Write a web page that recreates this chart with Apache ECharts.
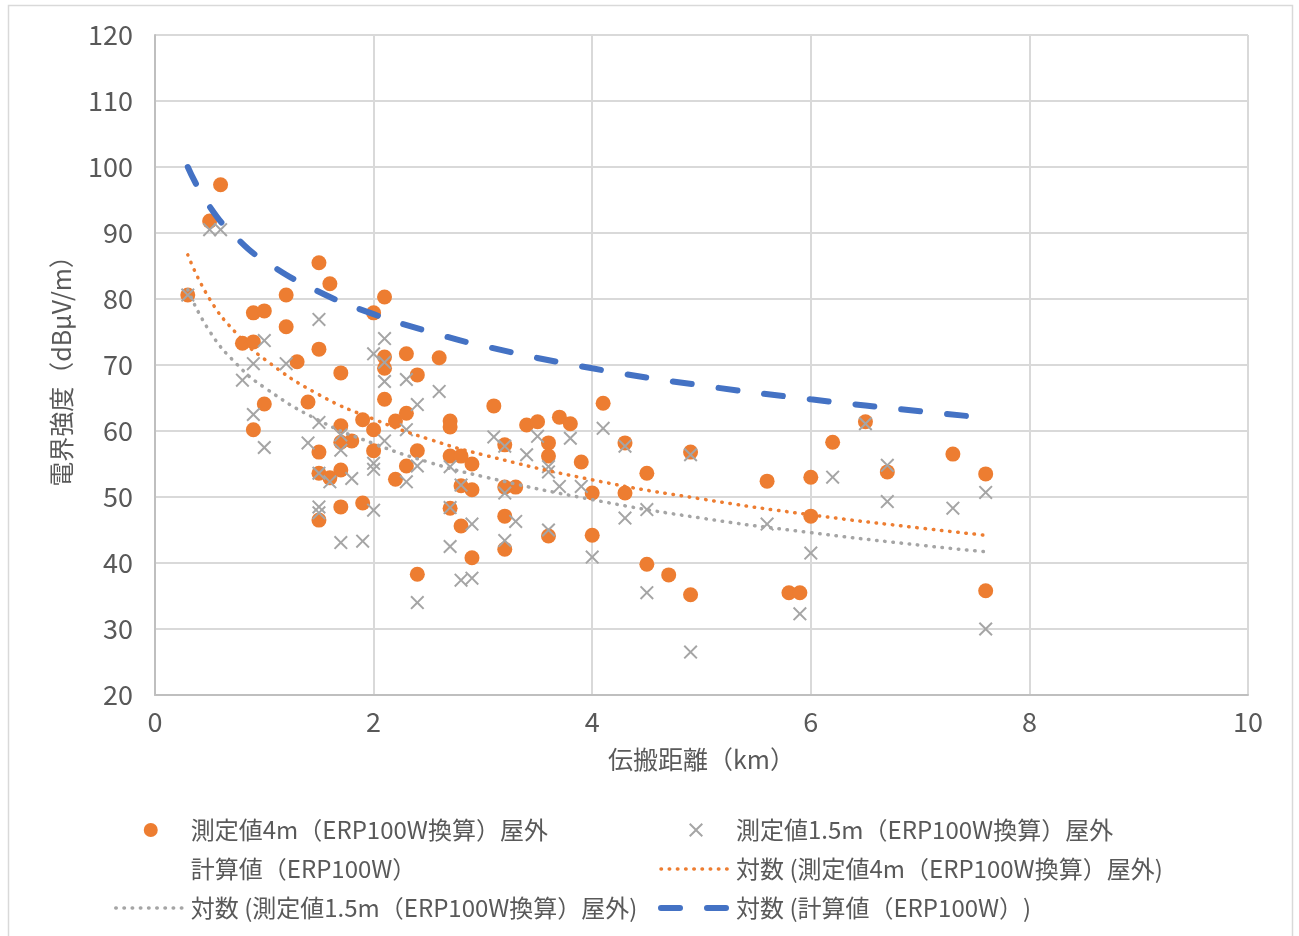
<!DOCTYPE html>
<html>
<head>
<meta charset="utf-8">
<title>電界強度</title>
<script src="https://cdn.jsdelivr.net/npm/echarts@6.0.0/dist/echarts.min.js"></script>
<style>
html, body { margin: 0; padding: 0; background: #ffffff; }
#chart { width: 1299px; height: 936px; }
</style>
</head>
<body>
<div id="chart"></div>
<script>
// 測定値4m
const dist4m = [0.3, 0.5, 0.6, 0.8, 0.9, 0.9, 1.0, 0.9, 1.0, 1.2, 1.2, 1.3, 1.4, 1.5, 1.5, 1.5, 1.5, 1.5,
  1.6, 1.6, 1.7, 1.7, 1.7, 1.7, 1.7, 1.8, 1.9, 1.9, 2.0, 2.0, 2.0, 2.1, 2.1, 2.1, 2.1, 2.2, 2.2,
  2.3, 2.3, 2.3, 2.4, 2.4, 2.4, 2.6, 2.7, 2.7, 2.7, 2.7, 2.8, 2.8, 2.8, 2.9, 2.9, 2.9, 3.1, 3.2,
  3.2, 3.2, 3.2, 3.3, 3.4, 3.5, 3.6, 3.6, 3.6, 3.7, 3.8, 3.9, 4.0, 4.0, 4.1, 4.3, 4.3, 4.5, 4.5,
  4.7, 4.9, 4.9, 5.6, 5.8, 5.9, 6.0, 6.0, 6.2, 6.5, 6.7, 7.3, 7.6, 7.6];
const val4m = [80.6, 91.8, 97.3, 73.3, 77.9, 73.5, 78.2, 60.2, 64.1, 80.6, 75.8, 70.5, 64.4, 85.5, 72.4, 56.8, 53.6, 46.5,
  82.3, 52.9, 68.8, 60.8, 58.3, 54.1, 48.5, 58.5, 61.7, 49.1, 77.9, 60.2, 57.0, 80.3, 71.2, 69.5, 64.8, 61.5, 52.7,
  71.7, 62.7, 54.7, 68.5, 57.0, 38.3, 71.1, 61.5, 60.6, 56.2, 48.3, 56.2, 51.7, 45.6, 55.0, 51.1, 40.8, 63.8, 57.9,
  51.5, 47.1, 42.1, 51.5, 60.9, 61.4, 58.2, 56.2, 44.1, 62.1, 61.1, 55.3, 50.6, 44.2, 64.2, 58.2, 50.6, 53.6, 39.8,
  38.2, 56.8, 35.2, 52.4, 35.5, 35.5, 53.0, 47.1, 58.3, 61.4, 53.8, 56.5, 53.5, 35.8];

// 測定値1.5m
const dist15 = [0.3, 0.5, 0.6, 0.8, 0.9, 0.9, 1.0, 1.0, 1.2, 1.4, 1.5, 1.5, 1.5, 1.5, 1.5, 1.6, 1.7, 1.7,
  1.7, 1.8, 1.9, 2.0, 2.0, 2.0, 2.0, 2.1, 2.1, 2.1, 2.1, 2.3, 2.3, 2.3, 2.4, 2.4, 2.4, 2.6, 2.7,
  2.7, 2.7, 2.8, 2.8, 2.9, 2.9, 3.1, 3.2, 3.2, 3.2, 3.3, 3.4, 3.5, 3.6, 3.6, 3.6, 3.7, 3.8, 3.9,
  4.0, 4.1, 4.3, 4.3, 4.5, 4.5, 4.9, 4.9, 5.6, 5.9, 6.0, 6.2, 6.5, 6.7, 6.7, 7.3, 7.6, 7.6];
const val15 = [80.6, 90.5, 90.5, 67.7, 70.2, 62.5, 73.7, 57.5, 70.2, 58.2, 76.9, 61.3, 53.6, 48.5, 47.6, 52.3, 59.4, 57.1,
  43.1, 52.8, 43.3, 71.7, 55.1, 54.2, 48.0, 74.0, 70.4, 67.5, 58.5, 67.8, 60.2, 52.3, 64.0, 54.7, 34.0, 66.0, 54.6,
  48.4, 42.5, 51.8, 37.4, 45.9, 37.7, 59.1, 57.7, 50.6, 43.4, 46.3, 56.4, 59.2, 54.6, 53.8, 45.0, 51.6, 58.9, 51.6,
  40.9, 60.4, 57.7, 46.8, 48.1, 35.5, 56.4, 26.5, 45.9, 32.3, 41.5, 53.0, 61.1, 54.8, 49.3, 48.3, 50.7, 30.0];

// 近似曲線（対数）: 図から読んだ値
const trendX = [0.3, 0.5, 0.75, 1, 1.5, 2, 2.5, 3, 4, 5, 6, 7, 7.6];
const trend4m = [86.7, 80.0, 74.7, 70.9, 65.5, 61.8, 58.8, 56.4, 52.6, 49.7, 47.3, 45.3, 44.2];
const trend15 = [81.4, 75.1, 70.1, 66.6, 61.6, 58.1, 55.3, 53.1, 49.6, 46.8, 44.6, 42.7, 41.7];
const trendCalc = [100.0, 94.0, 89.2, 85.8, 81.1, 77.7, 75.1, 72.9, 69.5, 66.9, 64.8, 63.0, 62.0];

const name4m = '測定値4m（ERP100W換算）屋外';
const name15 = '測定値1.5m（ERP100W換算）屋外';
const nameCalc = '計算値（ERP100W）';
const nameT4m = '対数 (' + name4m + ')';
const nameT15 = '対数 (' + name15 + ')';
const nameTCalc = '対数 (' + nameCalc + ')';

const zip = (xs, ys) => xs.map((x, i) => [x, ys[i]]);

const FONT = '"Noto Sans CJK JP", "Noto Sans", sans-serif';
const TEXT = '#595959';
const NONE = 'rgba(0,0,0,0)';
const xMark = 'path://M0,1.4L1.4,0L7,5.6L12.6,0L14,1.4L8.4,7L14,12.6L12.6,14L7,8.4L1.4,14L0,12.6L5.6,7Z';

const chart = echarts.init(document.getElementById('chart'));

const legendBase = {
  orient: 'vertical',
  padding: 0,
  itemWidth: 70,
  itemHeight: 14,
  itemGap: 13,
  selectedMode: false,
  itemStyle: { borderWidth: 0 },
  lineStyle: { width: 'inherit' },
  textStyle: { fontSize: 24, lineHeight: 26, color: TEXT, fontFamily: FONT }
};

// 近似曲線（凡例に点を出さない）
function trendSeries(name, color, width, dash, data) {
  return {
    name: name,
    type: 'line',
    smooth: true,
    symbol: 'none',
    z: 5,
    lineStyle: { color: color, width: width, type: dash, cap: 'round' },
    itemStyle: { color: NONE, borderColor: NONE, borderWidth: 0 },
    emphasis: { disabled: true },
    data: data
  };
}

chart.setOption({
  animation: false,
  textStyle: { fontFamily: FONT },
  graphic: [{
    type: 'rect',
    silent: true,
    z: -10,
    shape: { x: 8.5, y: 5.5, width: 1284, height: 960 },
    style: { fill: 'none', stroke: '#d9d9d9', lineWidth: 1.5 }
  }],
  grid: {
    left: 155,
    right: 51,
    top: 35,
    bottom: 241,
    containLabel: false,
    outerBoundsMode: 'none'
  },
  legend: [
    Object.assign({ left: 114, top: 817, data: [name4m, nameCalc, nameT15] }, legendBase),
    Object.assign({ left: 658, top: 817, data: [name15, nameT4m, nameTCalc] }, legendBase)
  ],
  xAxis: {
    type: 'value',
    min: 0,
    max: 10,
    interval: 2,
    name: '伝搬距離（km）',
    nameLocation: 'middle',
    nameGap: 52,
    nameTextStyle: { fontSize: 25, color: TEXT, fontFamily: FONT },
    axisLine: { show: true, onZero: false, lineStyle: { color: '#bfbfbf', width: 2 } },
    axisTick: { show: false },
    axisLabel: { fontSize: 27, color: TEXT, margin: 13, fontFamily: FONT },
    splitLine: { show: true, lineStyle: { color: '#d9d9d9', width: 2 } }
  },
  yAxis: {
    type: 'value',
    min: 20,
    max: 120,
    interval: 10,
    name: '電界強度（dBμV/m）',
    nameLocation: 'middle',
    nameGap: 81,
    nameRotate: 90,
    nameTextStyle: { fontSize: 25, color: TEXT, fontFamily: FONT },
    axisLine: { show: true, lineStyle: { color: '#bfbfbf', width: 2 } },
    axisTick: { show: false },
    axisLabel: { fontSize: 27, color: TEXT, margin: 22, fontFamily: FONT },
    splitLine: { show: true, lineStyle: { color: '#d9d9d9', width: 2 } }
  },
  series: [
    {
      name: name4m,
      type: 'scatter',
      symbol: 'circle',
      symbolSize: 15,
      itemStyle: { color: '#ED7D31', opacity: 1 },
      emphasis: { disabled: true },
      data: zip(dist4m, val4m)
    },
    {
      name: name15,
      type: 'scatter',
      symbol: xMark,
      symbolSize: 14,
      symbolKeepAspect: true,
      itemStyle: { color: '#A5A5A5', opacity: 1 },
      emphasis: { disabled: true },
      data: zip(dist15, val15)
    },
    {
      name: nameCalc,
      type: 'scatter',
      symbolSize: 0,
      itemStyle: { color: NONE },
      data: []
    },
    trendSeries(nameT4m, '#ED7D31', 3.5, [0.5, 7.7], zip(trendX, trend4m)),
    trendSeries(nameT15, '#A5A5A5', 3.5, [0.5, 7.7], zip(trendX, trend15)),
    trendSeries(nameTCalc, '#4472C4', 6, [19, 27], zip(trendX, trendCalc))
  ]
});
</script>
</body>
</html>
